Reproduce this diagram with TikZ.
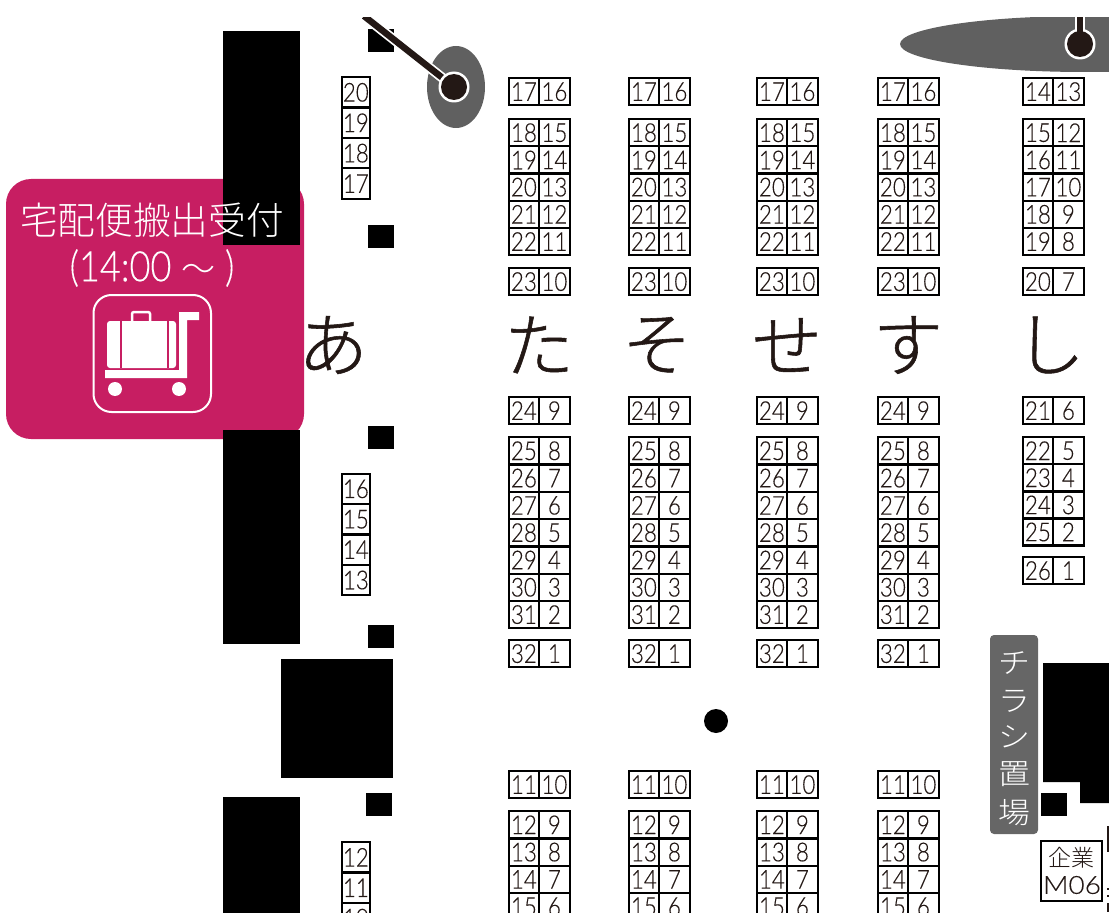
\documentclass[tikz,border=0pt]{standalone}
\usepackage{graphicx}
\usepackage{fontspec}
\setmainfont[UprightFont=* Light,FakeStretch=0.86,FakeBold=0.2]{Lato}
\newfontfamily\widef[UprightFont=* Light,FakeStretch=1.12,FakeBold=0.2]{Lato}
\newfontfamily\jpf[UprightFont=* Light]{Noto Sans CJK JP}
\newfontfamily\jpk[UprightFont=* Light,FakeBold=0.8]{Noto Sans CJK JP}
\definecolor{ink}{HTML}{231815}
\definecolor{pinkbox}{HTML}{C71E62}
\definecolor{graytag}{HTML}{666666}
\definecolor{grayspot}{HTML}{606060}
\newcommand{\pair}[6]{% x, y, h, name, left, right
  \node[booth, minimum height=#3, anchor=north west] (#4l) at (#1,#2) {#5};
  \node[booth, minimum height=#3, anchor=north west] (#4r) at (#1+30.5,#2) {#6};}
\newcommand{\single}[5]{% x,y,h,name,text
  \node[booth, minimum width=28, minimum height=#3, anchor=north west] (#4) at (#1,#2) {#5};}
\tikzset{
  booth/.style={draw=black,line width=2.3pt,fill=white,minimum width=30.5,inner sep=0pt,font=\fontsize{26}{26}\selectfont,text=ink},
  blackblock/.style={fill=black,draw=none},
  kana/.style={font=\jpk\fontsize{70}{70}\selectfont,text=ink,inner sep=0pt},
  whitetext/.style={text=white,inner sep=0pt},
  tagchar/.style={text=white,inner sep=0pt,font=\jpf\fontsize{29}{29}\selectfont},
}
\begin{document}
\begin{tikzpicture}[x=1pt,y=-1pt]
\useasboundingbox (0,0) rectangle (1109,915);
\fill[pinkbox,rounded corners=25] (6,179) rectangle (304,439);
\begin{scope}
\clip (0,18) rectangle (1109,912);
% black blocks
\fill[blackblock] (223,31) rectangle (300,245);
\fill[blackblock] (223,430) rectangle (300,644);
\fill[blackblock] (281,659) rectangle (393,778);
\fill[blackblock] (223,797) rectangle (300,915);
\fill[blackblock] (368,29) rectangle (394,52);
\fill[blackblock] (368,225) rectangle (394,248);
\fill[blackblock] (368,426) rectangle (394,449);
\fill[blackblock] (368,625) rectangle (394,648);
\fill[blackblock] (366,793) rectangle (392,816);
\fill[blackblock] (1043,663) -- (1109,663) -- (1109,803) -- (1080,803) -- (1080,782) -- (1043,782) -- cycle;
\fill[blackblock] (1041,793) rectangle (1067,816);
% grey spots
\fill[grayspot] (456,87) ellipse [x radius=29, y radius=41];
\fill[grayspot] (1085,44) ellipse [x radius=185, y radius=28];
% left singles
\foreach \t [count=\i from 0] in {20,19,18,17}{\single{340.7}{76+30.4*\i}{30.4}{la\i}{\t}}
\foreach \t [count=\i from 0] in {16,15,14,13}{\single{340.7}{472.5+30.4*\i}{30.4}{lb\i}{\t}}
\foreach \t [count=\i from 0] in {12,11,10}{\single{340.7}{841+30.4*\i}{30.4}{lc\i}{\t}}
% main columns
\foreach \x/\c in {507.5/a,627.5/b,755.5/c,876.5/d}{
  \pair{\x}{77}{27}{\c t}{17}{16}
  \foreach \l/\r [count=\i from 0] in {18/15,19/14,20/13,21/12,22/11}{\pair{\x}{118+27.2*\i}{27.2}{\c p\i}{\l}{\r}}
  \pair{\x}{267}{27}{\c u}{23}{10}
  \pair{\x}{396}{27}{\c v}{24}{9}
  \foreach \l/\r [count=\i from 0] in {25/8,26/7,27/6,28/5,29/4,30/3,31/2}{\pair{\x}{436+27.3*\i}{27.3}{\c q\i}{\l}{\r}}
  \pair{\x}{639}{27}{\c w}{32}{1}
  \pair{\x}{770}{27}{\c x}{11}{10}
  \foreach \l/\r [count=\i from 0] in {12/9,13/8,14/7,15/6}{\pair{\x}{810+27.3*\i}{27.3}{\c r\i}{\l}{\r}}
}
% last column
\pair{1021.5}{77}{27}{et}{14}{13}
\foreach \l/\r [count=\i from 0] in {15/12,16/11,17/10,18/9,19/8}{\pair{1021.5}{118+27.2*\i}{27.2}{ep\i}{\l}{\r}}
\pair{1021.5}{267}{27}{eu}{20}{7}
\pair{1021.5}{396}{27}{ev}{21}{6}
\foreach \l/\r [count=\i from 0] in {22/5,23/4,24/3,25/2}{\pair{1021.5}{436+27.1*\i}{27.1}{eq\i}{\l}{\r}}
\pair{1021.5}{556}{27}{ew}{26}{1}
% pins
\coordinate (pinA) at (454,87);
\coordinate (pinAend) at (364,16);
\coordinate (pinB) at (1080,44);
\coordinate (pinBend) at (1080,16);
\draw[white,line width=10pt] (pinAend) -- (pinA);
\draw[ink,line width=6.5pt] (pinAend) -- (pinA);
\draw[white,line width=10pt] (pinBend) -- (pinB);
\fill[white] (pinA) circle (15.5);
\fill[white] (pinB) circle (15.5);
\draw[ink,line width=6.5pt] (pinBend) -- (pinB);
\fill[ink] (pinA) circle (13);
\fill[ink] (pinB) circle (13);
% fragments at the right edge
\draw[ink,line width=2pt] (1109,827) -- (1108,827) -- (1108,852);
\fill[ink] (1107,888) rectangle (1109,890);
\fill[ink] (1107,895) rectangle (1109,897);
\fill[ink] (1107,903) rectangle (1109,912);
\end{scope}
% kana
\node[kana] (k1) at (333,345) {あ};
\node[kana] (k2) at (539,345) {た};
\node[kana] (k3) at (657,345) {そ};
\node[kana] (k4) at (787,345) {せ};
\node[kana] (k5) at (908,345) {す};
\node[kana] (k6) at (1050,345) {し};
\node[circle,fill=black,minimum size=24,inner sep=0pt] (dot) at (716,721) {};
% pink box text
\node[whitetext,font=\jpf\fontsize{37.7}{38}\selectfont] (t1) at (152,220) {宅配便搬出受付};
\node[whitetext,font=\fontsize{42}{42}\selectfont] (t2) at (152,268) {(14:00 {\jpf\fontsize{34}{34}\selectfont ～} )};
% icon
\draw[white,line width=2pt,rounded corners=18] (93.5,295) rectangle (211,412);
\fill[white,rounded corners=3] (107,321) rectangle (176,368);
\fill[pinkbox] (119.5,321) rectangle (121.5,368);
\fill[pinkbox] (166.5,321) rectangle (168.5,368);
\draw[white,line width=2.5pt,rounded corners=2] (132,322) -- (132,312) -- (150,312) -- (150,322);
\fill[white] (105,370) -- (179,370) -- (179,312) -- (199,312) -- (199,320) -- (187,320) -- (187,378) -- (105,378) -- cycle;
\fill[white] (115,389) circle (7);
\fill[white] (179,389) circle (7);
% flyers tag
\fill[graytag,rounded corners=4] (990,635) rectangle (1038,834);
\foreach \t/\y/\n in {チ/663.5/a,ラ/701/b,シ/736.5/c,置/774/d,場/812.5/e}{
  \node[tagchar] (tag\n) at (1014,\y) {\scalebox{1.1}[1]{\t}};
}
% corporate booth
\node[draw=black,line width=2pt,fill=white,minimum width=61,minimum height=60,anchor=north west,inner sep=0pt] (corp) at (1040,839.5) {};
\node[inner sep=0pt,text=ink,font=\jpf\fontsize{23}{23}\selectfont] (corpa) at (1071,858) {企業};
\node[inner sep=0pt,text=ink,font=\widef\fontsize{25}{25}\selectfont] (corpb) at (1072,885) {M06};
\end{tikzpicture}
\end{document}
